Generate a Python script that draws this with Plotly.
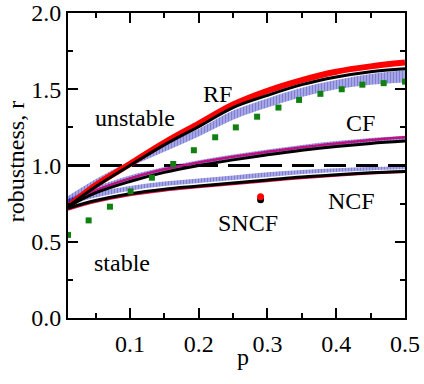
import plotly.graph_objects as go

# p grid for the curves
p = [0.01, 0.05, 0.1, 0.15, 0.2, 0.25, 0.3, 0.35, 0.4, 0.45, 0.5]

# RF
rf_black = [0.73, 0.86, 1.0, 1.135, 1.255, 1.38, 1.46, 1.53, 1.58, 1.615, 1.635]
rf_red = [0.73, 0.87, 1.01, 1.15, 1.275, 1.40, 1.49, 1.56, 1.615, 1.65, 1.675]
rf_blue_lo = [0.74, 0.86, 0.99, 1.09, 1.19, 1.30, 1.38, 1.45, 1.50, 1.53, 1.545]
rf_blue_hi = [0.80, 0.91, 1.03, 1.14, 1.24, 1.36, 1.44, 1.51, 1.56, 1.60, 1.625]

# CF
cf_black = [0.73, 0.82, 0.895, 0.955, 1.0, 1.037, 1.07, 1.10, 1.125, 1.145, 1.16]
cf_red = [0.73, 0.835, 0.915, 0.975, 1.02, 1.057, 1.09, 1.12, 1.145, 1.167, 1.185]
cf_blue_lo = [0.74, 0.825, 0.9, 0.96, 1.005, 1.042, 1.075, 1.105, 1.13, 1.15, 1.165]
cf_blue_hi = [0.78, 0.86, 0.935, 0.99, 1.035, 1.072, 1.105, 1.135, 1.16, 1.18, 1.195]

# NCF
ncf_black = [0.72, 0.77, 0.815, 0.845, 0.865, 0.885, 0.905, 0.925, 0.94, 0.952, 0.96]
ncf_red = [0.71, 0.76, 0.805, 0.835, 0.857, 0.877, 0.897, 0.917, 0.933, 0.947, 0.957]
ncf_blue_lo = [0.74, 0.79, 0.835, 0.865, 0.885, 0.905, 0.925, 0.945, 0.958, 0.968, 0.975]
ncf_blue_hi = [0.78, 0.825, 0.865, 0.895, 0.915, 0.935, 0.955, 0.97, 0.982, 0.99, 0.995]

# SNCF single points
sncf_p = [0.29]
sncf_red = [0.795]
sncf_black = [0.775]

# green squares
green_p = [0.01, 0.04, 0.071, 0.101, 0.132, 0.163, 0.193, 0.224, 0.254,
           0.285, 0.316, 0.346, 0.377, 0.408, 0.438, 0.469, 0.5]
green_r = [0.545, 0.64, 0.73, 0.83, 0.92, 1.01, 1.10, 1.185, 1.25,
           1.32, 1.38, 1.43, 1.47, 1.50, 1.53, 1.54, 1.55]

threshold = 1.0

FONT = "'Liberation Serif', 'Times New Roman', 'DejaVu Serif', serif"
BLUE = "#0000b0"

fig = go.Figure()

# threshold line
fig.add_hline(y=threshold, line=dict(color="black", width=3, dash="22px,10px"), layer="below")

# blue hatched bands
for lo, hi in [(rf_blue_lo, rf_blue_hi), (cf_blue_lo, cf_blue_hi), (ncf_blue_lo, ncf_blue_hi)]:
    fig.add_trace(go.Scatter(x=p, y=lo, mode="lines", line=dict(width=0, shape="spline"),
                             showlegend=False, hoverinfo="skip"))
    fig.add_trace(go.Scatter(x=p, y=hi, mode="lines", line=dict(width=0, shape="spline"),
                             fill="tonexty", fillcolor="rgba(0,0,0,0)",
                             fillpattern=dict(shape="|", fgcolor=BLUE, size=3, solidity=0.8),
                             showlegend=False, hoverinfo="skip"))

# red curves
fig.add_trace(go.Scatter(x=p, y=rf_red, mode="lines", line=dict(color="red", width=6, shape="spline"),
                         showlegend=False))
fig.add_trace(go.Scatter(x=p, y=cf_red, mode="lines", line=dict(color="#c01080", width=2.5, shape="spline"),
                         showlegend=False))
fig.add_trace(go.Scatter(x=p, y=ncf_red, mode="lines", line=dict(color="#e01040", width=2, shape="spline"),
                         showlegend=False))

# black curves
for ys in [rf_black, cf_black, ncf_black]:
    fig.add_trace(go.Scatter(x=p, y=ys, mode="lines", line=dict(color="black", width=3, shape="spline"),
                             showlegend=False))

# SNCF
fig.add_trace(go.Scatter(x=sncf_p, y=sncf_black, mode="markers",
                         marker=dict(color="black", size=7), showlegend=False))
fig.add_trace(go.Scatter(x=sncf_p, y=sncf_red, mode="markers",
                         marker=dict(color="red", size=7), showlegend=False))

# green squares
fig.add_trace(go.Scatter(x=green_p, y=green_r, mode="markers",
                         marker=dict(color="#108010", size=6, symbol="square"), showlegend=False))

labels = [("RF", 0.228, 1.47), ("unstable", 0.107, 1.31), ("CF", 0.436, 1.28),
          ("NCF", 0.422, 0.77), ("SNCF", 0.272, 0.62), ("stable", 0.088, 0.36)]
for txt, x, y in labels:
    fig.add_annotation(x=x, y=y, text=txt, showarrow=False,
                       font=dict(family=FONT, size=24, color="black"))

# axis titles
fig.add_annotation(xref="paper", yref="paper", x=0.52, y=0, yshift=-39, text="p",
                   xanchor="center", yanchor="middle",
                   showarrow=False, font=dict(family=FONT, size=24, color="black"))
fig.add_annotation(xref="paper", yref="paper", x=0, y=0.511, xshift=-52, text="robustness, r",
                   xanchor="center", yanchor="middle", textangle=-90,
                   showarrow=False, font=dict(family=FONT, size=24, color="black"))

axis_common = dict(showline=True, linecolor="black", linewidth=2, mirror="ticks",
                   ticks="inside", ticklen=10, tickwidth=2, tickcolor="black",
                   showgrid=False, zeroline=False, automargin=False,
                   tickfont=dict(family=FONT, size=24, color="black"))

fig.update_xaxes(range=[0.01, 0.5], tickvals=[0.1, 0.2, 0.3, 0.4, 0.5],
                 ticktext=["0.1", "0.2", "0.3", "0.4", "0.5"],
                 minor=dict(tickvals=[0.05, 0.15, 0.25, 0.35, 0.45], ticks="inside",
                            ticklen=5, tickwidth=2, tickcolor="black"),
                 ticklabelstandoff=3, **axis_common)
fig.update_yaxes(range=[0, 2], tickvals=[0, 0.5, 1.0, 1.5, 2.0],
                 ticktext=["0.0", "0.5", "1.0", "1.5", "2.0"],
                 minor=dict(tickvals=[0.25, 0.75, 1.25, 1.75], ticks="inside",
                            ticklen=5, tickwidth=2, tickcolor="black"),
                 **axis_common)

fig.update_layout(width=424, height=384, plot_bgcolor="white", paper_bgcolor="white",
                  margin=dict(l=68, r=19, t=13, b=66), showlegend=False)

# drop the default page margin so the figure sits at the window's corner
fig.write_html("out.html", config={"displayModeBar": False},
               post_script="document.body.style.margin='0';")
